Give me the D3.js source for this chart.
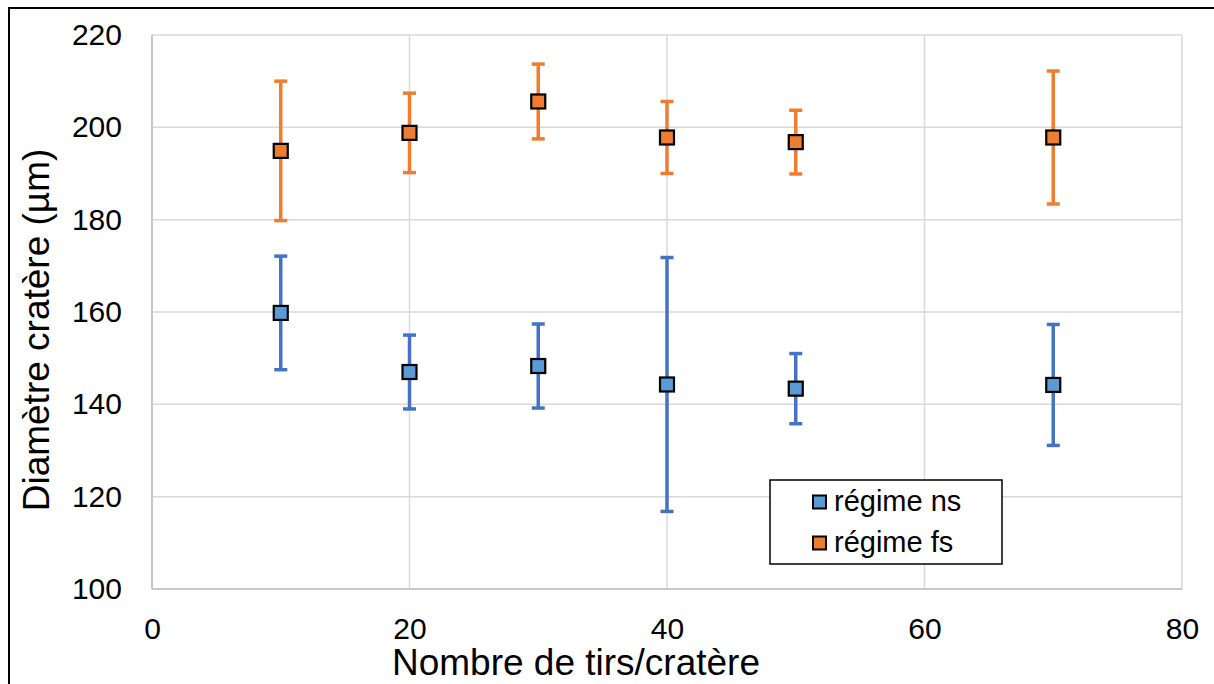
<!DOCTYPE html>
<html><head><meta charset="utf-8">
<script src="https://cdn.jsdelivr.net/npm/d3@7"></script>
<style>body{margin:0;background:#fff}svg{display:block}</style>
</head><body>
<svg id="c" width="1214" height="684"></svg>
<script>
const xTicks = [0, 20, 40, 60, 80];
const yTicks = [100, 120, 140, 160, 180, 200, 220];
const shots = [10, 20, 30, 40, 50, 70];
const nsMean = [159.8, 147.0, 148.3, 144.3, 143.4, 144.2];
const nsErr  = [12.3, 8.0, 9.1, 27.5, 7.6, 13.1];
const fsMean = [194.9, 198.8, 205.6, 197.8, 196.8, 197.8];
const fsErr  = [15.1, 8.6, 8.1, 7.8, 6.9, 14.4];
const seriesNames = ["régime ns", "régime fs"];

const svg = d3.select("#c");
const font = "'Liberation Sans', Arial, sans-serif";
const L = 152, R = 1182, T = 35, B = 589;
const x = d3.scaleLinear().domain([0, 80]).range([L, R]);
const y = d3.scaleLinear().domain([100, 220]).range([B, T]);

// outer border
svg.append("rect").attr("x", 9).attr("y", 8).attr("width", 1214).attr("height", 700)
  .attr("fill", "none").attr("stroke", "#000").attr("stroke-width", 2);

// gridlines
const g = svg.append("g");
g.selectAll(".hy").data(yTicks).join("line")
  .attr("x1", L).attr("x2", R).attr("y1", d => y(d)).attr("y2", d => y(d))
  .attr("stroke", "#d9d9d9").attr("stroke-width", 1.5);
g.selectAll(".vx").data(xTicks).join("line")
  .attr("y1", T).attr("y2", B).attr("x1", d => x(d)).attr("x2", d => x(d))
  .attr("stroke", "#d9d9d9").attr("stroke-width", 1.5);
g.append("line").attr("x1", L).attr("x2", R).attr("y1", B).attr("y2", B).attr("stroke", "#bfbfbf").attr("stroke-width", 1.5);
g.append("line").attr("x1", L).attr("x2", L).attr("y1", T).attr("y2", B).attr("stroke", "#bfbfbf").attr("stroke-width", 1.5);

// axes via d3
const ax = svg.append("g").attr("transform", `translate(0,${B})`)
  .call(d3.axisBottom(x).tickValues(xTicks).tickSize(0));
const ay = svg.append("g").attr("transform", `translate(${L},0)`)
  .call(d3.axisLeft(y).tickValues(yTicks).tickSize(0).tickPadding(30));
[ax, ay].forEach(a => {
  a.select(".domain").remove();
  a.selectAll("text").attr("font-family", font).attr("font-size", 30).attr("fill", "#000");
});
ax.selectAll("text").attr("dy", null).attr("y", 50);

// titles
svg.append("text").attr("x", 576).attr("y", 675).attr("text-anchor", "middle")
  .attr("font-family", font).attr("font-size", 37).text("Nombre de tirs/cratère");
svg.append("text").attr("transform", "translate(49,330) rotate(-90)").attr("text-anchor", "middle")
  .attr("font-family", font).attr("font-size", 37).text("Diamètre cratère (µm)");

function drawSeries(means, errs, barColor, fill) {
  const data = shots.map((s, i) => ({ x: s, m: means[i], e: errs[i] }));
  const s = svg.append("g");
  s.selectAll(".eb").data(data).join("line")
    .attr("x1", d => x(d.x)).attr("x2", d => x(d.x))
    .attr("y1", d => y(d.m + d.e)).attr("y2", d => y(d.m - d.e))
    .attr("stroke", barColor).attr("stroke-width", 3.5);
  ["top", "bot"].forEach(k => {
    s.selectAll(".cap" + k).data(data).join("line")
      .attr("x1", d => x(d.x) - 6.5).attr("x2", d => x(d.x) + 6.5)
      .attr("y1", d => y(k === "top" ? d.m + d.e : d.m - d.e))
      .attr("y2", d => y(k === "top" ? d.m + d.e : d.m - d.e))
      .attr("stroke", barColor).attr("stroke-width", 3.5);
  });
  s.selectAll(".mk").data(data).join("rect")
    .attr("x", d => x(d.x) - 7).attr("y", d => y(d.m) - 7)
    .attr("width", 14).attr("height", 14)
    .attr("fill", fill).attr("stroke", "#000").attr("stroke-width", 2.2);
}
drawSeries(nsMean, nsErr, "#4472c4", "#5b9bd5");
drawSeries(fsMean, fsErr, "#ed7d31", "#ed7d31");

// legend
const lg = svg.append("g");
lg.append("rect").attr("x", 770).attr("y", 480).attr("width", 232).attr("height", 84)
  .attr("fill", "#fff").attr("stroke", "#000").attr("stroke-width", 1.5);
const fills = ["#5b9bd5", "#ed7d31"];
seriesNames.forEach((n, i) => {
  const cy = 502 + i * 41;
  lg.append("rect").attr("x", 813).attr("y", cy - 6.5).attr("width", 13).attr("height", 13)
    .attr("fill", fills[i]).attr("stroke", "#000").attr("stroke-width", 2);
  lg.append("text").attr("x", 834).attr("y", cy + 9)
    .attr("font-family", font).attr("font-size", 29).text(n);
});
</script>
</body></html>
